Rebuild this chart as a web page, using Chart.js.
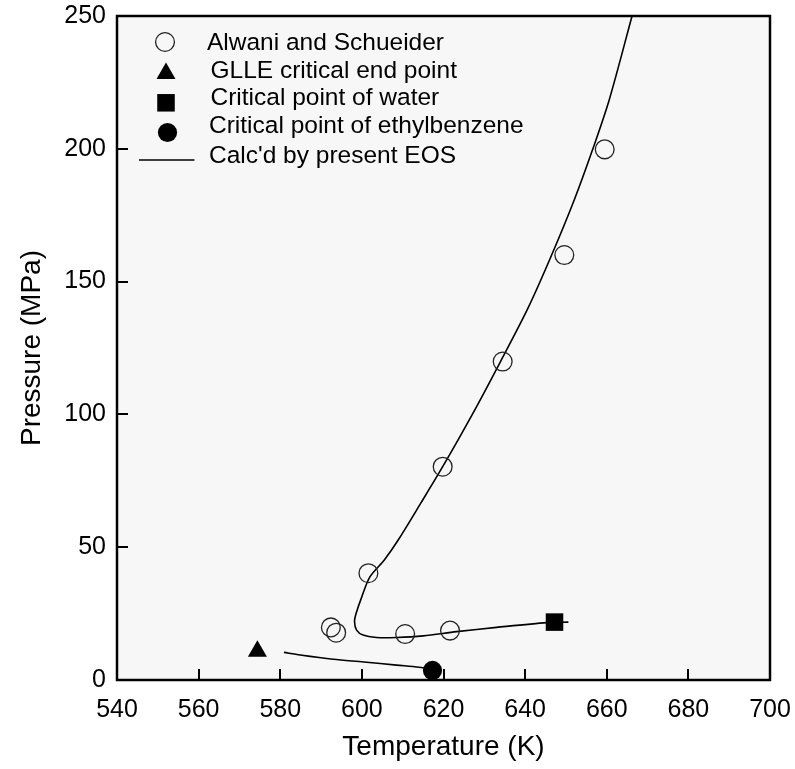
<!DOCTYPE html>
<html>
<head>
<meta charset="utf-8">
<script src="https://cdn.jsdelivr.net/npm/chart.js@4/dist/chart.umd.min.js"></script>
<style>
  html, body { margin: 0; padding: 0; background: #ffffff; }
  #wrap { width: 795px; height: 769px; }
</style>
</head>
<body>
<div id="wrap"><canvas id="c" width="795" height="769"></canvas></div>
<script>
// Experimental data (Alwani and Schneider)
const alwaniT = [592.4, 593.7, 601.6, 610.6, 621.6, 619.8, 634.5, 649.6, 659.5];
const alwaniP = [19.8, 17.8, 40.2, 17.3, 18.6, 80.3, 119.9, 160.0, 199.8];

// Single characteristic points
const glleT = [574.4];
const glleP = [10.8];
const waterT = [647.2];
const waterP = [21.8];
const ebT = [617.3];
const ebP = [3.6];

// Calculated critical curve, upper branch (from 250 MPa down to the water critical point)
const eosUpperT = [666.2, 660.6, 656.6, 652.1, 646.5, 640.7, 634.0, 627.2, 619.8, 614.4, 608.9, 605.5, 602.0, 600.0, 598.6, 598.2, 598.7, 600.3, 603.6, 608.5, 615.0, 623.2, 633.0, 645.3, 650.6];
const eosUpperP = [250.0, 218.4, 200.0, 181.0, 160.0, 140.0, 120.0, 100.4, 80.3, 66.5, 52.7, 45.2, 38.9, 31.4, 25.1, 22.0, 18.8, 16.9, 16.0, 16.0, 16.6, 18.2, 19.8, 21.6, 21.8];

// Calculated critical curve, lower branch (GLLE end point to ethylbenzene critical point)
const eosLowerT = [580.9, 584.9, 593.0, 600.5, 608.5, 614.0, 618.5];
const eosLowerP = [10.4, 9.4, 7.8, 6.8, 5.6, 4.8, 3.7];

// Axis ticks
const xTicks = [540, 560, 580, 600, 620, 640, 660, 680, 700];
const yTicks = [0, 50, 100, 150, 200, 250];

const legendLabels = [
  'Alwani and Schueider',
  'GLLE critical end point',
  'Critical point of water',
  'Critical point of ethylbenzene',
  "Calc'd by present EOS"
];

const pts = (xs, ys) => xs.map((x, i) => ({ x: x, y: ys[i] }));
const FONT = "'Liberation Sans', Arial, Helvetica, sans-serif";

const datasets = [
  {
    label: legendLabels[4], data: pts(eosUpperT, eosUpperP), showLine: true,
    borderColor: '#000', borderWidth: 1.6, pointRadius: 0, tension: 0.3, fill: false, order: 5
  },
  {
    label: legendLabels[4] + ' (lower)', data: pts(eosLowerT, eosLowerP), showLine: true,
    borderColor: '#000', borderWidth: 1.6, pointRadius: 0, tension: 0.3, fill: false, order: 5
  },
  {
    label: legendLabels[0], data: pts(alwaniT, alwaniP), showLine: false,
    pointStyle: 'circle', pointRadius: 9.4, pointBorderWidth: 1.3,
    pointBorderColor: '#222', pointBackgroundColor: 'rgba(0,0,0,0)', order: 1
  },
  {
    label: legendLabels[1], data: pts(glleT, glleP), showLine: false,
    pointStyle: 'triangle', pointRadius: 11, pointBorderWidth: 0,
    pointBackgroundColor: '#000', pointBorderColor: '#000', order: 1
  },
  {
    label: legendLabels[2], data: pts(waterT, waterP), showLine: false,
    pointStyle: 'rect', pointRadius: 12.4, pointBorderWidth: 0,
    pointBackgroundColor: '#000', pointBorderColor: '#000', order: 1
  },
  {
    label: legendLabels[3], data: pts(ebT, ebP), showLine: false,
    pointStyle: 'circle', pointRadius: 9.6, pointBorderWidth: 0,
    pointBackgroundColor: '#000', pointBorderColor: '#000', order: 1
  }
];

// Light grey plotting area
const plotBackground = {
  id: 'plotBackground',
  beforeDraw(chart) {
    const { ctx, chartArea: a } = chart;
    ctx.save();
    ctx.fillStyle = '#f7f7f7';
    ctx.fillRect(a.left, a.top, a.right - a.left, a.bottom - a.top);
    ctx.restore();
  }
};

// Frame around the plot and inward-pointing tick marks
const frameAndTicks = {
  id: 'frameAndTicks',
  afterDraw(chart) {
    const { ctx, chartArea: a, scales } = chart;
    const len = 11;
    ctx.save();
    ctx.strokeStyle = '#000';
    ctx.lineWidth = 2;
    ctx.beginPath();
    scales.x.ticks.forEach(t => {
      if (t.value <= scales.x.min || t.value >= scales.x.max) return;
      const px = Math.round(scales.x.getPixelForValue(t.value));
      ctx.moveTo(px, a.bottom);
      ctx.lineTo(px, a.bottom - len);
    });
    scales.y.ticks.forEach(t => {
      if (t.value <= scales.y.min || t.value >= scales.y.max) return;
      const py = Math.round(scales.y.getPixelForValue(t.value));
      ctx.moveTo(a.left, py);
      ctx.lineTo(a.left + len, py);
    });
    ctx.stroke();
    ctx.lineWidth = 2.5;
    ctx.strokeRect(a.left, a.top, a.right - a.left, a.bottom - a.top);
    ctx.restore();
  }
};

function drawMarker(ctx, style, x, y, r, fill, stroke, bw) {
  ctx.save();
  ctx.beginPath();
  if (style === 'triangle') {
    let rad = 0;
    for (let k = 0; k < 3; k++) {
      const px = x + Math.sin(rad) * r, py = y - Math.cos(rad) * r;
      if (k === 0) ctx.moveTo(px, py); else ctx.lineTo(px, py);
      rad += 2 * Math.PI / 3;
    }
    ctx.closePath();
  } else if (style === 'rect') {
    const s = Math.SQRT1_2 * r;
    ctx.rect(x - s, y - s, 2 * s, 2 * s);
  } else {
    ctx.arc(x, y, r, 0, 2 * Math.PI);
  }
  if (fill && fill !== 'rgba(0,0,0,0)') { ctx.fillStyle = fill; ctx.fill(); }
  if (bw > 0) { ctx.strokeStyle = stroke; ctx.lineWidth = bw; ctx.stroke(); }
  ctx.restore();
}

// Legend inside the upper-left corner of the plot
const innerLegend = {
  id: 'innerLegend',
  afterDraw(chart) {
    const ctx = chart.ctx;
    const ds = chart.data.datasets;
    const rows = [
      { d: ds[2], mx: 165, my: 42, tx: 207, ty: 49.5 },
      { d: ds[3], mx: 166, my: 73.5, tx: 210.5, ty: 77.8 },
      { d: ds[4], mx: 166, my: 102.8, tx: 210.5, ty: 104.5 },
      { d: ds[5], mx: 167.5, my: 132.5, tx: 209, ty: 132.8 },
      { d: ds[0], line: true, x0: 139, x1: 194.5, my: 160, tx: 209, ty: 162.8 }
    ];
    ctx.save();
    ctx.font = '24.5px ' + FONT;
    ctx.fillStyle = '#000';
    ctx.textAlign = 'left';
    ctx.textBaseline = 'alphabetic';
    rows.forEach((r, i) => {
      if (r.line) {
        ctx.save();
        ctx.strokeStyle = r.d.borderColor;
        ctx.lineWidth = r.d.borderWidth;
        ctx.beginPath();
        ctx.moveTo(r.x0, r.my);
        ctx.lineTo(r.x1, r.my);
        ctx.stroke();
        ctx.restore();
      } else {
        drawMarker(ctx, r.d.pointStyle, r.mx, r.my, r.d.pointRadius,
          r.d.pointBackgroundColor, r.d.pointBorderColor, r.d.pointBorderWidth);
      }
      ctx.fillText(legendLabels[i], r.tx, r.ty);
    });
    ctx.restore();
  }
};

new Chart(document.getElementById('c'), {
  type: 'scatter',
  data: { datasets: datasets },
  plugins: [plotBackground, frameAndTicks, innerLegend],
  options: {
    responsive: false,
    animation: false,
    devicePixelRatio: 1,
    layout: { padding: { left: 0, right: 25, top: 16, bottom: 0 } },
    plugins: { legend: { display: false }, tooltip: { enabled: false } },
    scales: {
      x: {
        type: 'linear', min: 540, max: 700,
        afterBuildTicks(s) { s.ticks = xTicks.map(v => ({ value: v })); },
        afterFit(s) { s.height = 89; s.paddingLeft = 0; s.paddingRight = 0; },
        grid: { display: false, drawTicks: false },
        border: { display: false },
        ticks: { autoSkip: false, maxRotation: 0, padding: 15, color: '#000', font: { family: FONT, size: 25 } },
        title: { display: true, text: 'Temperature (K)', color: '#000', font: { family: FONT, size: 28 }, padding: { top: 0, bottom: 5 } }
      },
      y: {
        type: 'linear', min: 0, max: 250,
        afterBuildTicks(s) { s.ticks = yTicks.map(v => ({ value: v })); },
        afterFit(s) { s.width = 117; s.paddingTop = 0; s.paddingBottom = 0; },
        grid: { display: false, drawTicks: false },
        border: { display: false },
        ticks: { autoSkip: false, padding: 11, color: '#000', font: { family: FONT, size: 25 } },
        title: { display: true, text: 'Pressure (MPa)', color: '#000', font: { family: FONT, size: 28 }, padding: { top: 15, bottom: 0 } }
      }
    }
  }
});
</script>
</body>
</html>
